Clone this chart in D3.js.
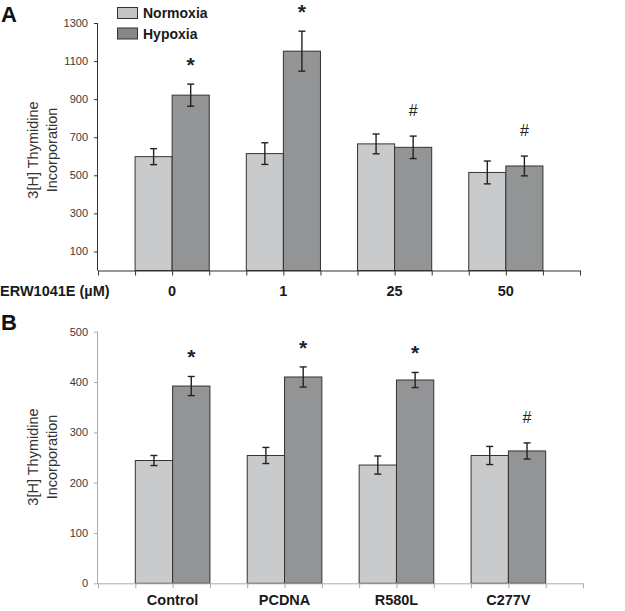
<!DOCTYPE html>
<html><head><meta charset="utf-8">
<script src="https://cdn.jsdelivr.net/npm/d3@7"></script>
<style>body{margin:0;background:#fff}svg{display:block;font-family:"Liberation Sans",Arial,sans-serif}</style>
</head><body><svg id="c" width="625" height="611"></svg>
<script>
// ---- Panel A data ----
const catsA = ["0", "1", "25", "50"];
const normA = [598, 614, 665, 515];
const normErrA = [42, 57, 52, 60];
const hypA = [921, 1152, 647, 549];
const hypErrA = [58, 105, 59, 52];
const marksA = ["*", "*", "#", "#"];
const ticksA = [100, 300, 500, 700, 900, 1100, 1300];
// ---- Panel B data ----
const catsB = ["Control", "PCDNA", "R580L", "C277V"];
const normB = [244, 254, 235, 254];
const normErrB = [10, 16, 18, 18];
const hypB = [392, 410, 404, 263];
const hypErrB = [19, 20, 15, 16];
const marksB = ["*", "*", "*", "#"];
const ticksB = [0, 100, 200, 300, 400, 500];
const seriesNames = ["Normoxia", "Hypoxia"];

const svg = d3.select("#c");
const colN = "#c9cacc", colH = "#939496";

function panel(o) {
  const g = svg.append("g");
  const y = d3.scaleLinear().domain([0, o.max]).range([o.y0, o.y1]);
  const nSlots = 13;
  const x = d3.scaleLinear().domain([0, nSlots]).range([o.x0, o.x1]);
  // y axis
  const ya = g.append("g").attr("transform", `translate(${o.x0},0)`)
    .call(d3.axisLeft(y).tickValues(o.ticks).tickSize(4).tickPadding(6).tickFormat(d3.format("d")));
  ya.select(".domain").attr("stroke", o.axisCol).attr("d", `M-0.5,${y(o.max)}V${o.y0}`);
  ya.selectAll(".tick line").attr("stroke", o.axisCol);
  ya.selectAll("text").attr("font-size", 11).attr("fill", "#3a3a3a").attr("font-family", "Liberation Sans, Arial, sans-serif");
  // bars
  o.cats.forEach((c, i) => {
    const vals = [[o.norm[i], o.normErr[i], colN, 1 + 3 * i], [o.hyp[i], o.hypErr[i], colH, 2 + 3 * i]];
    vals.forEach(([v, e, col, s]) => {
      g.append("rect").attr("x", x(s)).attr("width", x(s + 1) - x(s))
        .attr("y", y(v)).attr("height", y(0) - y(v))
        .attr("fill", col).attr("stroke", "#333").attr("stroke-width", 1);
      const cx = (x(s) + x(s + 1)) / 2;
      const eg = g.append("g").attr("stroke", "#222").attr("stroke-width", 1.4);
      eg.append("line").attr("x1", cx).attr("x2", cx).attr("y1", y(v + e)).attr("y2", y(v - e));
      eg.append("line").attr("x1", cx - 3.5).attr("x2", cx + 3.5).attr("y1", y(v + e)).attr("y2", y(v + e));
      eg.append("line").attr("x1", cx - 3.5).attr("x2", cx + 3.5).attr("y1", y(v - e)).attr("y2", y(v - e));
    });
    const hs = 2 + 3 * i;
    const hcx = (x(hs) + x(hs + 1)) / 2;
    const top = y(o.hyp[i] + o.hypErr[i]);
    const m = o.marks[i];
    g.append("text").attr("x", hcx).attr("y", m === "*" ? top - 12 : top - 20)
      .attr("text-anchor", "middle").attr("font-size", m === "*" ? 21 : 16)
      .attr("font-weight", m === "*" ? "bold" : "normal")
      .attr("fill", "#222").text(m);
    g.append("text").attr("x", x(2 + 3 * i)).attr("y", o.labY).attr("text-anchor", "middle")
      .attr("font-size", 14.5).attr("font-weight", "bold").attr("fill", "#1a1a1a").text(c);
  });
  // x axis
  const xa = g.append("g").attr("transform", `translate(0,${o.y0})`)
    .call(d3.axisBottom(x).tickValues(d3.range(nSlots + 1)).tickSize(5).tickFormat(""));
  xa.select(".domain").attr("stroke", o.axisCol).attr("d", `M${o.x0},0.5H${o.x1}`);
  xa.selectAll(".tick line").attr("stroke", o.axisCol);
  // y label
  const yl = g.append("text").attr("transform", `translate(0,${o.ylabY}) rotate(-90)`)
    .attr("text-anchor", "middle").attr("font-size", 14.5).attr("fill", "#333");
  yl.append("tspan").attr("x", 0).attr("y", 38).text("3[H] Thymidine");
  yl.append("tspan").attr("x", 0).attr("y", 57).text("Incorporation");
  // panel letter
  g.append("text").attr("x", 1).attr("y", o.letterY).attr("font-size", 22).attr("font-weight", "bold")
    .attr("fill", "#111").text(o.letter);
}

panel({cats: catsA, norm: normA, normErr: normErrA, hyp: hypA, hypErr: hypErrA, marks: marksA,
  ticks: ticksA, max: 1300, y0: 270.5, y1: 23, x0: 98, x1: 580, axisCol: "#333",
  labY: 296, ylabY: 150, letter: "A", letterY: 22});
panel({cats: catsB, norm: normB, normErr: normErrB, hyp: hypB, hypErr: hypErrB, marks: marksB,
  ticks: ticksB, max: 500, y0: 583.3, y1: 331.7, x0: 98, x1: 583, axisCol: "#aaa",
  labY: 605, ylabY: 457, letter: "B", letterY: 330});

// x-axis title for A
svg.append("text").attr("x", 0).attr("y", 296).attr("font-size", 14.5).attr("font-weight", "bold")
  .attr("fill", "#1a1a1a").text("ERW1041E (µM)");

// legend
const leg = svg.append("g");
seriesNames.forEach((n, i) => {
  leg.append("rect").attr("x", 117.5).attr("y", 7.5 + i * 20.5).attr("width", 20).attr("height", 11)
    .attr("fill", i === 0 ? "#c3c4c6" : "#858688").attr("stroke", "#333");
  leg.append("text").attr("x", 143).attr("y", 18 + i * 20.5).attr("font-size", 14).attr("font-weight", "bold")
    .attr("fill", "#1a1a1a").text(n);
});
</script></body></html>
